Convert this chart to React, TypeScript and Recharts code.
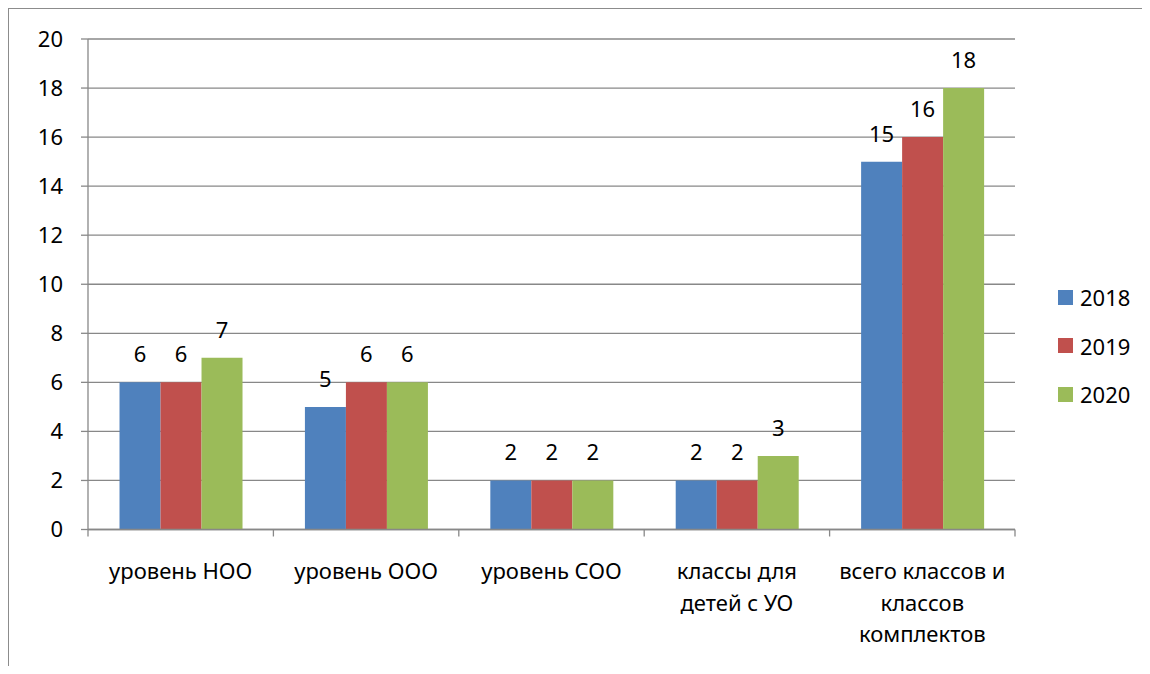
import { BarChart, Bar, XAxis, YAxis, CartesianGrid, Legend, LabelList } from "recharts"

// Categories (line breaks as in the original axis labels)
const categories = [
  "уровень НОО",
  "уровень ООО",
  "уровень СОО",
  "классы для\nдетей с УО",
  "всего классов и\nклассов\nкомплектов",
]
const values2018 = [6, 5, 2, 2, 15]
const values2019 = [6, 6, 2, 2, 16]
const values2020 = [7, 6, 2, 3, 18]
const yTicks = [0, 2, 4, 6, 8, 10, 12, 14, 16, 18, 20]
const boundaryTicks = [0, 1, 2, 3, 4, 5]

const FONT = "'Noto Sans', 'Open Sans', sans-serif"
const GRAY = "#888888"

const data = categories.map((name, i) => ({
  name,
  idx: i,
  y2018: values2018[i],
  y2019: values2019[i],
  y2020: values2020[i],
}))

const CategoryTick = (props: any) => {
  const { x, y, payload } = props
  const lines = String(payload.value).split("\n")
  return (
    <text x={x} y={y} textAnchor="middle" fill="#000" fontSize={22} fontFamily={FONT}>
      {lines.map((line, i) => (
        <tspan key={i} x={x} dy={i === 0 ? 48.5 : 31.5}>
          {line}
        </tspan>
      ))}
    </text>
  )
}

const EmptyTick = () => <g />

const LegendContent = (props: any) => {
  const items = props.payload || []
  return (
    <div style={{ display: "flex", flexDirection: "column", fontFamily: FONT, fontSize: 22 }}>
      {items.map((item: any) => (
        <div key={item.value} style={{ height: 48.5, display: "flex", alignItems: "center" }}>
          <span style={{ width: 15, height: 15, background: item.color, marginRight: 7, display: "inline-block" }} />
          <span style={{ color: "#000" }}>{item.value}</span>
        </div>
      ))}
    </div>
  )
}

export default function App() {
  return (
    <div style={{ position: "relative", width: 1142, height: 658, overflow: "hidden" }}>
      <BarChart
        width={1142}
        height={658}
        data={data}
        margin={{ top: 31, right: 135, bottom: 35.5, left: 20 }}
        barCategoryGap="17%"
        barGap={0}
        style={{ fontFamily: FONT }}
      >
        <CartesianGrid xAxisId="cat" vertical={false} stroke={GRAY} strokeWidth={1.3} />
        <XAxis
          xAxisId="cat"
          dataKey="name"
          height={100}
          interval={0}
          axisLine={false}
          tickLine={false}
          tickSize={0}
          tickMargin={0}
          tick={<CategoryTick />}
        />
        <YAxis
          domain={[0, 20]}
          ticks={yTicks}
          interval={0}
          width={60}
          tickSize={7}
          tickMargin={18}
          axisLine={{ stroke: GRAY, strokeWidth: 1.3 }}
          tickLine={{ stroke: GRAY, strokeWidth: 1.3 }}
          tick={{ fill: "#000", fontSize: 22, fontFamily: FONT }}
        />
        <Legend
          layout="vertical"
          align="center"
          verticalAlign="middle"
          content={<LegendContent />}
          wrapperStyle={{ left: 1050, top: 264.75, width: 90 }}
        />
        <Bar xAxisId="cat" dataKey="y2018" name="2018" fill="#4F81BD" isAnimationActive={false}>
          <LabelList dataKey="y2018" position="top" offset={20} fill="#000" fontSize={22} fontFamily={FONT} />
        </Bar>
        <Bar xAxisId="cat" dataKey="y2019" name="2019" fill="#C0504D" isAnimationActive={false}>
          <LabelList dataKey="y2019" position="top" offset={20} fill="#000" fontSize={22} fontFamily={FONT} />
        </Bar>
        <Bar xAxisId="cat" dataKey="y2020" name="2020" fill="#9BBB59" isAnimationActive={false}>
          <LabelList dataKey="y2020" position="top" offset={20} fill="#000" fontSize={22} fontFamily={FONT} />
        </Bar>
        <XAxis
          xAxisId="aEdges"
          type="number"
          dataKey="idx"
          domain={[0, 5]}
          ticks={boundaryTicks}
          interval={0}
          allowDataOverflow
          tick={<EmptyTick />}
          tickSize={7}
          height={1}
          axisLine={{ stroke: GRAY, strokeWidth: 1.3 }}
          tickLine={{ stroke: GRAY, strokeWidth: 1.3 }}
        />
      </BarChart>
      <div
        style={{
          position: "absolute",
          left: -1,
          top: -1,
          width: "100%",
          height: "100%",
          borderTop: "2px solid #8c8c8c",
          borderLeft: "2px solid #8c8c8c",
          pointerEvents: "none",
        }}
      />
    </div>
  )
}
